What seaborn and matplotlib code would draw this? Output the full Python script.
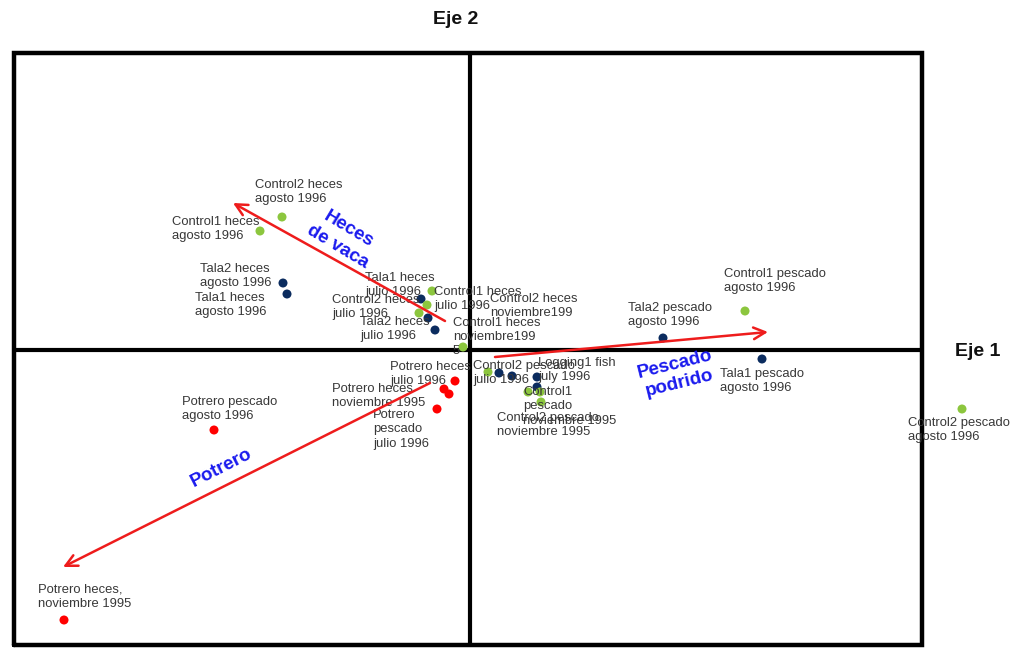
import numpy as np
import pandas as pd
import matplotlib
matplotlib.use("Agg")
import matplotlib.pyplot as plt
import seaborn as sns

# ---------------- data ----------------
labels = [
    "Control2 heces\nagosto 1996", "Control1 heces\nagosto 1996",
    "Tala2 heces\nagosto 1996", "Tala1 heces\nagosto 1996",
    "Tala1 heces\njulio 1996", "Control2 heces\njulio 1996",
    "Tala2 heces\njulio 1996", "Control1 heces\njulio 1996",
    "Control2 heces\nnoviembre199", "",
    "Control1 heces\nnoviembre199\n5",
    "Control2 pescado\njulio 1996", "", "", "Logging1 fish\njuly 1996", "",
    "Control1\npescado\nnoviembre 1995", "", "Control2 pescado\nnoviembre 1995",
    "Potrero heces\njulio 1996", "Potrero heces\nnoviembre 1995", "",
    "Potrero\npescado\njulio 1996", "Potrero pescado\nagosto 1996",
    "Potrero heces,\nnoviembre 1995",
    "Tala2 pescado\nagosto 1996", "Control1 pescado\nagosto 1996",
    "Tala1 pescado\nagosto 1996", "Control2 pescado\nagosto 1996",
]
groups = [
    "Control", "Control", "Tala", "Tala", "Tala", "Control", "Tala", "Control",
    "Control", "Tala", "Control",
    "Control", "Tala", "Tala", "Tala", "Tala", "Control", "Control", "Control",
    "Potrero", "Potrero", "Potrero", "Potrero", "Potrero", "Potrero",
    "Tala", "Control", "Tala", "Control",
]
eje1 = [-1.88, -2.10, -1.87, -1.83, -0.49, -0.43, -0.35, -0.38, -0.51, -0.42, -0.07,
        0.18, 0.29, 0.42, 0.67, 0.67, 0.58, 0.70, 0.71,
        -0.15, -0.26, -0.21, -0.33, -2.56, -4.06,
        1.93, 2.75, 2.92, 4.92]
eje2 = [1.33, 1.19, 0.67, 0.56, 0.51, 0.45, 0.20, 0.59, 0.37, 0.32, 0.03,
        -0.22, -0.23, -0.26, -0.27, -0.37, -0.42, -0.42, -0.52,
        -0.31, -0.39, -0.44, -0.59, -0.80, -2.70,
        0.12, 0.39, -0.09, -0.59]

# environmental vectors
vec_names = ["Heces\nde vaca", "Pescado\npodrido", "Potrero"]
vec_x0 = [-0.25, 0.25, -0.40]
vec_y0 = [0.29, -0.07, -0.33]
vec_x1 = [-2.37, 2.98, -4.07]
vec_y1 = [1.47, 0.18, -2.17]

# ---------------- layout (label offsets in pixels, text placement) ----------------
label_off = [(-27, 38), (-88, 15), (-83, 20), (-92, 2), (-56, 27), (-95, 11),
             (-75, 14), (2, 5), (71, 20), (0, 0), (-10, 30),
             (-15, 12), (0, 0), (0, 0), (1, 20), (0, 0), (-5, 6), (0, 0), (-44, -10),
             (-65, 20), (-112, 6), (0, 0), (-64, 0), (-32, 34), (-26, 36),
             (-35, 36), (-21, 43), (-42, -9), (-54, -8)]
vec_label_pos = [(-1.27, 1.12), (2.07, -0.24), (-2.49, -1.18)]
vec_label_rot = [-31, 14, 27]

palette = {"Control": "#8cc63e", "Tala": "#0b2c5f", "Potrero": "#ff0000"}

df = pd.DataFrame({"label": labels, "grupo": groups, "eje1": eje1, "eje2": eje2})

sns.set_theme(style="white")
plt.rcParams["font.family"] = ["Liberation Sans", "DejaVu Sans"]

fig = plt.figure(figsize=(10.17, 6.5), dpi=100)
ax = fig.add_axes([0, 0, 1, 1])
ax.set_xlim(-4.70, 5.47)
ax.set_ylim(-3.00, 3.50)
ax.set_axis_off()

# frame and axes
bx0, bx1, by0, by1 = -4.56, 4.52, -2.95, 2.97
ax.plot([bx0, bx1, bx1, bx0, bx0], [by0, by0, by1, by1, by0], color="black",
        lw=3.2, zorder=1, solid_joinstyle="miter")
ax.plot([bx0, bx1], [0, 0], color="black", lw=3.0, zorder=1)
ax.plot([0, 0], [by0, by1], color="black", lw=3.0, zorder=1)

sns.scatterplot(data=df, x="eje1", y="eje2", hue="grupo", palette=palette, s=42,
                edgecolor="none", legend=False, ax=ax, zorder=3)

for lab, x, y, (dx, dy) in zip(labels, eje1, eje2, label_off):
    if lab:
        ax.annotate(lab, (x, y), xytext=(dx, dy), textcoords="offset pixels",
                    ha="left", va="top", fontsize=9.4, color="#383838",
                    linespacing=1.25, zorder=4)

for x0, y0, x1, y1 in zip(vec_x0, vec_y0, vec_x1, vec_y1):
    ax.annotate("", xy=(x1, y1), xytext=(x0, y0),
                arrowprops=dict(arrowstyle="->,head_length=0.7,head_width=0.35",
                                color="#ee1c1c", lw=1.8, shrinkA=0, shrinkB=0),
                zorder=5)

for name, (tx, ty), rot in zip(vec_names, vec_label_pos, vec_label_rot):
    ax.text(tx, ty, name, ha="center", va="center", rotation=rot,
            rotation_mode="anchor", fontsize=13.5, fontweight="bold",
            color="#1a1aee", multialignment="center", linespacing=1.25, zorder=6)

ax.text(-0.14, 3.30, "Eje 2", ha="center", va="center", fontsize=14,
        fontweight="bold", color="#111111")
ax.text(5.08, -0.02, "Eje 1", ha="center", va="center", fontsize=14,
        fontweight="bold", color="#111111")

fig.savefig("out.png", dpi=100)
